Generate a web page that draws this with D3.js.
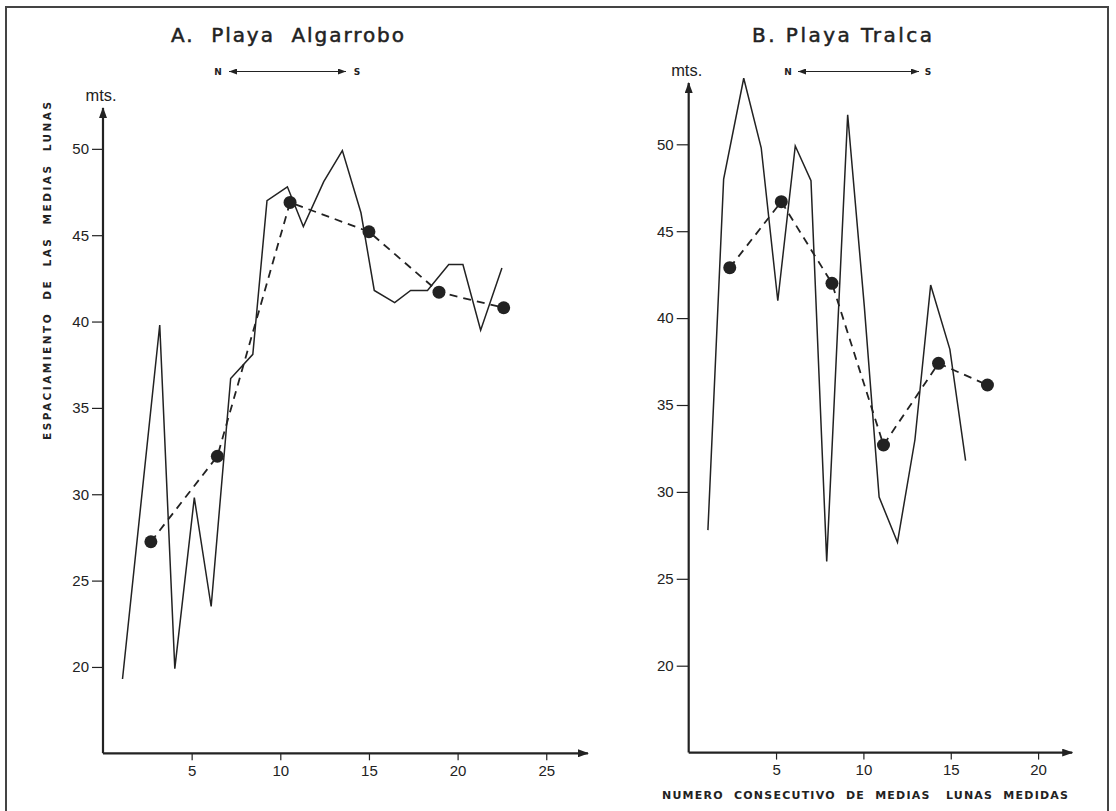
<!DOCTYPE html>
<html>
<head>
<meta charset="utf-8">
<script src="https://cdn.jsdelivr.net/npm/d3@7"></script>
<style>
  body { margin: 0; background: #fff; }
  svg { display: block; }
  .tick text { font-family: "Liberation Sans", Arial, sans-serif; font-size: 15px; fill: #222; }
</style>
</head>
<body>
<svg id="fig" width="1116" height="811"></svg>
<script>
// A. Playa Algarrobo - successive measurements and group means
var algSeqX = [1.1, 3.2, 4.05, 5.15, 6.1, 7.2, 8.45, 9.25, 10.4, 11.3, 12.45, 13.5, 14.55, 15.3, 16.45, 17.35, 18.3, 19.5, 20.3, 21.3, 22.5];
var algSeqY = [19.3, 39.8, 19.9, 29.8, 23.5, 36.7, 38.1, 47.0, 47.8, 45.5, 48.1, 49.9, 46.3, 41.8, 41.1, 41.8, 41.8, 43.3, 43.3, 39.5, 43.1];
var algMeanX = [2.7, 6.45, 10.55, 15.0, 18.95, 22.6];
var algMeanY = [27.25, 32.2, 46.9, 45.2, 41.7, 40.8];

// B. Playa Tralca
var traSeqX = [1.1, 2.0, 3.15, 4.15, 5.1, 6.1, 7.0, 7.9, 9.1, 10.05, 10.9, 11.95, 12.95, 13.85, 14.95, 15.85];
var traSeqY = [27.8, 48.0, 53.8, 49.8, 41.0, 49.9, 47.9, 26.0, 51.7, 40.7, 29.7, 27.1, 33.0, 41.9, 38.2, 31.8];
var traMeanX = [2.35, 5.3, 8.2, 11.15, 14.3, 17.1];
var traMeanY = [42.9, 46.7, 42.0, 32.7, 37.4, 36.15];

var yTicks = [20, 25, 30, 35, 40, 45, 50];
var algXTicks = [5, 10, 15, 20, 25];
var traXTicks = [5, 10, 15, 20];

var ink = "#222";
var svg = d3.select("#fig");

var defs = svg.append("defs");
defs.append("marker")
    .attr("id", "arrow")
    .attr("markerUnits", "userSpaceOnUse")
    .attr("markerWidth", 11).attr("markerHeight", 8)
    .attr("refX", 10).attr("refY", 4)
    .attr("orient", "auto-start-reverse")
  .append("path")
    .attr("d", "M0,0 L11,4 L0,8 Z")
    .attr("fill", ink);
defs.append("marker")
    .attr("id", "arrowSmall")
    .attr("markerUnits", "userSpaceOnUse")
    .attr("markerWidth", 8).attr("markerHeight", 6)
    .attr("refX", 8).attr("refY", 3)
    .attr("orient", "auto-start-reverse")
  .append("path")
    .attr("d", "M0,0 L8,3 L0,6 Z")
    .attr("fill", ink);

// outer frame (no bottom edge, it is cut off in the scan)
svg.append("path")
    .attr("d", "M6,811 L6,7 L1108,7 L1108,811")
    .attr("fill", "none")
    .attr("stroke", "#444")
    .attr("stroke-width", 2);

function zip(xs, ys) {
    return xs.map(function(x, i) { return [x, ys[i]]; });
}

function drawPanel(p) {
    var x = d3.scaleLinear().domain([0, p.xMax]).range([p.left, p.right]);
    var y = d3.scaleLinear().domain([15, p.yMax]).range([p.bottom, p.top]);
    var g = svg.append("g");

    // axes
    var gx = g.append("g")
        .attr("transform", "translate(0," + p.bottom + ")")
        .call(d3.axisBottom(x).tickValues(p.xTicks).tickSize(7).tickSizeOuter(0).tickPadding(5));
    var gy = g.append("g")
        .attr("transform", "translate(" + p.left + ",0)")
        .call(d3.axisLeft(y).tickValues(yTicks).tickSize(p.yTick).tickSizeOuter(0).tickPadding(3));
    [gx, gy].forEach(function(a) {
        a.select(".domain").remove();
        a.selectAll("line").attr("stroke", ink).attr("stroke-width", 1.2);
    });

    g.append("line")
        .attr("x1", p.left).attr("y1", p.bottom)
        .attr("x2", p.right).attr("y2", p.bottom)
        .attr("stroke", ink).attr("stroke-width", 2.2)
        .attr("marker-end", "url(#arrow)");
    g.append("line")
        .attr("x1", p.left).attr("y1", p.bottom)
        .attr("x2", p.left).attr("y2", p.top)
        .attr("stroke", ink).attr("stroke-width", 2.2)
        .attr("marker-end", "url(#arrow)");

    g.append("text")
        .attr("x", p.left - 2).attr("y", p.top - 7)
        .attr("text-anchor", "middle")
        .attr("font-family", "'Liberation Sans Narrow', 'Liberation Sans', sans-serif")
        .attr("font-size", 17)
        .attr("textLength", 31).attr("lengthAdjust", "spacingAndGlyphs")
        .attr("fill", ink)
        .text("mts.");

    // title
    g.append("text")
        .attr("x", p.titleX).attr("y", 42)
        .attr("font-family", "'DejaVu Sans', sans-serif")
        .attr("font-size", 20)
        .attr("textLength", p.titleW).attr("lengthAdjust", "spacing")
        .attr("fill", ink)
        .attr("stroke", ink).attr("stroke-width", 0.5)
        .attr("xml:space", "preserve")
        .text(p.title);

    // N <-> S
    g.append("text").attr("x", p.nX).attr("y", 75)
        .attr("text-anchor", "middle")
        .attr("font-family", "'DejaVu Sans', sans-serif")
        .attr("font-size", 9).attr("font-weight", "bold").attr("fill", ink)
        .text("N");
    g.append("line")
        .attr("x1", p.arrowX1).attr("y1", 71.5)
        .attr("x2", p.arrowX2).attr("y2", 71.5)
        .attr("stroke", ink).attr("stroke-width", 1.2)
        .attr("marker-start", "url(#arrowSmall)")
        .attr("marker-end", "url(#arrowSmall)");
    g.append("text").attr("x", p.sX).attr("y", 75)
        .attr("text-anchor", "middle")
        .attr("font-family", "'DejaVu Sans', sans-serif")
        .attr("font-size", 9).attr("font-weight", "bold").attr("fill", ink)
        .text("S");

    // series
    var line = d3.line().x(function(d) { return x(d[0]); }).y(function(d) { return y(d[1]); });
    g.append("path")
        .datum(zip(p.seqX, p.seqY))
        .attr("d", line)
        .attr("fill", "none")
        .attr("stroke", ink)
        .attr("stroke-width", 1.5)
        .attr("stroke-linejoin", "miter");
    var means = zip(p.meanX, p.meanY);
    g.append("path")
        .datum(means)
        .attr("d", line)
        .attr("fill", "none")
        .attr("stroke", ink)
        .attr("stroke-width", 1.8)
        .attr("stroke-dasharray", "8,6");
    g.selectAll("circle.mean")
        .data(means)
        .enter().append("circle")
        .attr("class", "mean")
        .attr("cx", function(d) { return x(d[0]); })
        .attr("cy", function(d) { return y(d[1]); })
        .attr("r", 6.5)
        .attr("fill", ink);
}

drawPanel({
    left: 103, right: 103 + 17.73 * 27.35, xMax: 27.35,
    bottom: 753.3, top: 108, yMax: 15 + (753.3 - 108) / 17.27,
    yTick: 11, xTicks: algXTicks,
    seqX: algSeqX, seqY: algSeqY, meanX: algMeanX, meanY: algMeanY,
    title: "A.  Playa  Algarrobo", titleX: 171, titleW: 233,
    nX: 218, arrowX1: 229, arrowX2: 346, sX: 357
});

drawPanel({
    left: 688.7, right: 688.7 + 17.47 * 21.95, xMax: 21.95,
    bottom: 752.6, top: 83, yMax: 15 + (752.6 - 83) / 17.38,
    yTick: 12, xTicks: traXTicks,
    seqX: traSeqX, seqY: traSeqY, meanX: traMeanX, meanY: traMeanY,
    title: "B. Playa Tralca", titleX: 752, titleW: 180,
    nX: 788, arrowX1: 798, arrowX2: 919, sX: 928
});

// axis titles
svg.append("text")
    .attr("transform", "translate(47,271) rotate(-90)")
    .attr("text-anchor", "middle")
    .attr("dy", "0.35em")
    .attr("font-family", "'DejaVu Sans', sans-serif")
    .attr("font-size", 10.5).attr("font-weight", "bold")
    .attr("textLength", 338).attr("lengthAdjust", "spacing")
    .attr("fill", ink)
    .attr("xml:space", "preserve")
    .text("ESPACIAMIENTO  DE  LAS  MEDIAS  LUNAS");

svg.append("text")
    .attr("x", 662).attr("y", 799)
    .attr("font-family", "'DejaVu Sans', sans-serif")
    .attr("font-size", 11).attr("font-weight", "bold")
    .attr("textLength", 406).attr("lengthAdjust", "spacing")
    .attr("fill", ink)
    .attr("xml:space", "preserve")
    .text("NUMERO  CONSECUTIVO  DE  MEDIAS   LUNAS  MEDIDAS");
</script>
</body>
</html>
